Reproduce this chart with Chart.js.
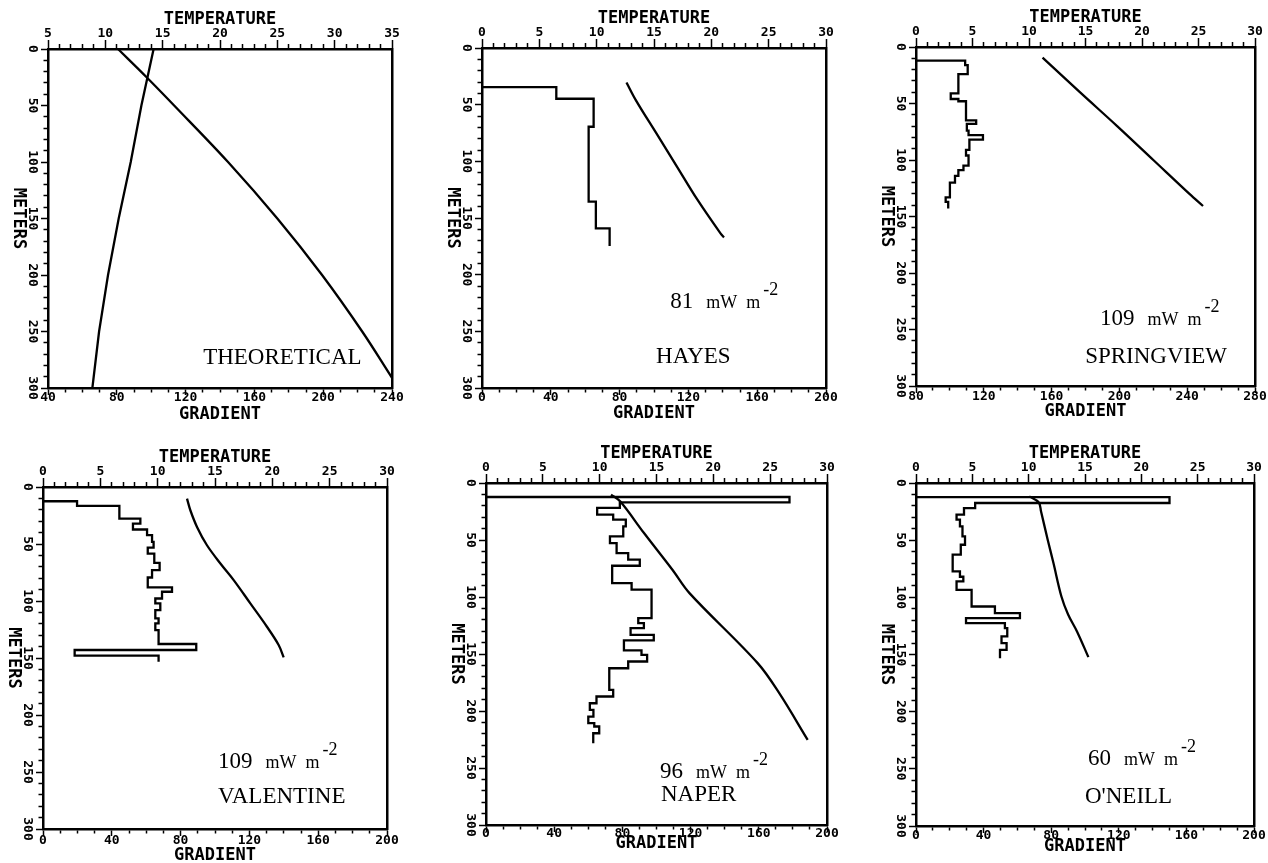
<!DOCTYPE html>
<html><head><meta charset="utf-8">
<title>Temperature and gradient logs</title>
<script src="https://cdn.jsdelivr.net/npm/chart.js@4.4.1/dist/chart.umd.min.js"></script>
<style>
html,body{margin:0;padding:0;background:#fff}
body{position:relative;width:1268px;height:863px;overflow:hidden}
canvas{position:absolute}
</style></head><body>
<script>
// ================= DATA =================
const depthTickLabels = [0, 50, 100, 150, 200, 250, 300];
const siteNames = ['THEORETICAL', 'HAYES', 'SPRINGVIEW', 'VALENTINE', 'NAPER', "O'NEILL"];
const heatFlow  = [null, '81', '109', '109', '96', '60'];
const tempRanges = [[5, 35], [0, 30], [0, 30], [0, 30], [0, 30], [0, 30]];
const gradRanges = [[40, 240], [0, 200], [80, 280], [0, 200], [0, 200], [0, 200]];

// THEORETICAL
const theoTempDepth = [0, 25, 50, 100, 150, 200, 250, 291];
const theoTemp      = [11.1, 13.6, 16.0, 20.7, 25.0, 28.9, 32.4, 35.0];
const theoGradDepth = [0, 50, 100, 150, 200, 250, 300];
const theoGrad      = [101.4, 94.3, 88.1, 81.1, 74.9, 69.7, 65.8];

// HAYES
const hayesTempDepth = [30.4, 45.7, 75.2, 104.6, 134.1, 163.6, 167.1];
const hayesTemp      = [12.6, 13.4, 15.2, 17.0, 18.8, 20.8, 21.1];
const hayesGradDepth = [34.5, 34.5, 44.8, 69.5, 135.6, 159.2, 174.8];
const hayesGrad      = [0, 43.2, 64.9, 62.0, 66.2, 74.2, 74.2];

// SPRINGVIEW
const sprTempDepth = [9.4, 40, 70, 100, 130, 140.7];
const sprTemp      = [11.2, 14.5, 17.8, 21.0, 24.2, 25.4];
const sprGradDepth = [12, 12, 16, 24, 41, 46, 48, 65, 68, 74, 78, 82, 91, 96, 105, 109, 114, 120, 133, 137, 143];
const sprGrad      = [80, 109, 110.5, 105, 100.5, 105, 109.5, 115.5, 110, 111, 119.5, 111.5, 109.5, 111, 108, 105, 103, 100, 97.5, 99, 99];

// VALENTINE
const valTempDepth = [10.2, 20.4, 35, 51.1, 67.1, 81.7, 102.1, 122.6, 138.6, 149.4];
const valTemp      = [12.56, 12.85, 13.43, 14.3, 15.47, 16.63, 18.08, 19.53, 20.55, 20.99];
const valGradDepth = [12.5, 12.5, 16.6, 27.7, 32.1, 37.3, 42.3, 48.1, 53.1, 58.4, 66.5, 73, 79.4, 88.1, 91.9, 97.8, 102.1, 108, 115.3, 119.6, 125.5, 137.7, 143, 147.9, 153.2];
const valGrad      = [0, 19.8, 44.4, 56.6, 52.3, 60.5, 63.4, 64.3, 60.9, 64.7, 67.8, 63.4, 60.9, 75, 69.2, 65.3, 68.2, 65.3, 67.2, 65.3, 67.2, 89.1, 18.4, 67.2, 67.2];

// NAPER
const napTempDepth = [10.2, 16.1, 43.9, 76.1, 96.6, 158, 184.4, 225.3];
const napTemp      = [11.0, 11.8, 13.9, 16.4, 17.9, 23.9, 25.8, 28.3];
const napGradDepth = [12.3, 12.3, 17, 21.9, 27.8, 32.2, 38, 46.8, 52.7, 61.5, 67.3, 72.6, 87.8, 93.6, 118.5, 122.9, 127.3, 133.2, 138.1, 146.9, 150.7, 156.6, 162.5, 181.4, 187.3, 193.2, 199, 205, 210.7, 213.6, 219.5, 228.3];
const napGrad      = [0, 178, 78.5, 65.2, 74.6, 82, 80.5, 72.7, 76.6, 83.4, 90.2, 74, 85.4, 97.1, 89.3, 92.6, 84.8, 98.4, 80.9, 91.2, 94.5, 83.4, 72.3, 74.6, 64.8, 60.9, 63, 60, 63.5, 66.4, 62.9, 62.9];

// O'NEILL
const onTempDepth = [11.7, 17, 25, 50, 70, 99, 115, 130, 152.3];
const onTemp      = [10.05, 10.9, 11.1, 11.7, 12.2, 12.9, 13.5, 14.3, 15.3];
const onGradDepth = [12.3, 12.3, 17.5, 21.9, 27.7, 32.1, 38, 46.7, 54, 62.7, 77.3, 82, 86.1, 93.4, 108, 113.8, 118.2, 122.6, 126.9, 134.2, 140.1, 145.9, 153.2];
const onGrad      = [0, 150, 35, 28.4, 24, 26, 27.5, 29, 26.5, 21.7, 26, 28, 24, 32.9, 46.7, 61.5, 29.6, 52.6, 54, 50.6, 53.6, 49.7, 49.7];

// ================= LAYOUT =================
const panels = [
  {rect:[48,49,344,339],  temp:[theoTempDepth,theoTemp],   grad:[theoGradDepth,theoGrad], stepped:false, namePos:[0.451,0.929], fluxPos:null,          bl:10,   bt:27},
  {rect:[482,48,344,340], temp:[hayesTempDepth,hayesTemp], grad:[hayesGradDepth,hayesGrad], stepped:'after', namePos:[0.506,0.926], fluxPos:[0.547,0.765], bl:9.5, bt:26},
  {rect:[916,47,339,339], temp:[sprTempDepth,sprTemp],     grad:[sprGradDepth,sprGrad],   stepped:'after', namePos:[0.499,0.932], fluxPos:[0.543,0.820], bl:11,  bt:26},
  {rect:[43,487,344,342], temp:[valTempDepth,valTemp],     grad:[valGradDepth,valGrad],   stepped:'after', namePos:[0.509,0.924], fluxPos:[0.509,0.822], bl:12,  bt:27},
  {rect:[486,483,341,342],temp:[napTempDepth,napTemp],     grad:[napGradDepth,napGrad],   stepped:'after', namePos:[0.513,0.930], fluxPos:[0.510,0.863], bl:9,   bt:19},
  {rect:[916,483,338,343],temp:[onTempDepth,onTemp],       grad:[onGradDepth,onGrad],     stepped:'after', namePos:[0.500,0.933], fluxPos:[0.509,0.822], bl:9.5, bt:21}
];

const MONO = 'DejaVu Sans Mono';
const SERIF = 'Liberation Serif';
const L = 45, T = 45, B = 40;

function rotText(ctx, text, x, y) {
  ctx.save(); ctx.translate(x, y); ctx.rotate(Math.PI / 2); ctx.fillText(text, 0, 0); ctx.restore();
}

panels.forEach((p, idx) => {
  const [l, t, w, h] = p.rect;
  const R = Math.min(30, 1268 - (l + w));
  const cv = document.createElement('canvas');
  cv.width = L + w + R; cv.height = T + h + B;
  cv.style.left = (l - L) + 'px'; cv.style.top = (t - T) + 'px';
  cv.style.width = cv.width + 'px'; cv.style.height = cv.height + 'px';
  document.body.appendChild(cv);

  const decor = {
    id: 'decor' + idx,
    afterDraw(chart) {
      const ctx = chart.ctx, ca = chart.chartArea, ys = chart.scales.y;
      const cw = ca.right - ca.left, ch = ca.bottom - ca.top;
      ctx.save();
      ctx.fillStyle = '#000';
      ctx.textAlign = 'center'; ctx.textBaseline = 'middle';
      ctx.font = 'bold 13px "' + MONO + '"';
      depthTickLabels.forEach(v => rotText(ctx, String(v), ca.left - 16, ys.getPixelForValue(v)));
      ctx.font = 'bold 17px "' + MONO + '"';
      rotText(ctx, 'METERS', ca.left - 30, (ca.top + ca.bottom) / 2);
      ctx.textAlign = 'left'; ctx.textBaseline = 'alphabetic';
      ctx.font = '23px "' + SERIF + '"';
      ctx.fillText(siteNames[idx], ca.left + p.namePos[0] * cw, ca.top + p.namePos[1] * ch);
      if (p.fluxPos && heatFlow[idx]) {
        let x = ca.left + p.fluxPos[0] * cw;
        const y = ca.top + p.fluxPos[1] * ch;
        ctx.font = '23px "' + SERIF + '"';
        ctx.fillText(heatFlow[idx], x, y); x += ctx.measureText(heatFlow[idx]).width + 13;
        ctx.font = '18px "' + SERIF + '"';
        ctx.fillText('mW', x, y); x += ctx.measureText('mW').width + 9;
        ctx.fillText('m', x, y); x += ctx.measureText('m').width + 3;
        ctx.font = '18px "' + SERIF + '"';
        ctx.fillText('-2', x, y - 13);
      }
      ctx.restore();
    }
  };

  const tickFont = {family: MONO, size: 13, weight: 'bold'};
  const titleFont = {family: MONO, size: 17, weight: 'bold'};
  const tr = tempRanges[idx], gr = gradRanges[idx];

  new Chart(cv, {
    type: 'line',
    data: {
      datasets: [
        {label: 'Temperature', xAxisID: 'xt', yAxisID: 'y',
         data: p.temp[0].map((d, i) => ({x: p.temp[1][i], y: d})),
         borderColor: '#000', borderWidth: 2.3, pointRadius: 0, tension: 0.35, fill: false},
        {label: 'Gradient', xAxisID: 'xg', yAxisID: 'y',
         data: p.grad[0].map((d, i) => ({x: p.grad[1][i], y: d})),
         stepped: p.stepped, borderColor: '#000', borderWidth: 2.3, pointRadius: 0, tension: 0, fill: false}
      ]
    },
    options: {
      responsive: false, animation: false, devicePixelRatio: 1,
      layout: {padding: {left: 0, top: 0, bottom: 0, right: R}},
      plugins: {legend: {display: false}, tooltip: {enabled: false}},
      scales: {
        xt: {
          type: 'linear', position: 'top', min: tr[0], max: tr[1],
          grid: {drawOnChartArea: false, drawTicks: true, tickLength: 9, tickWidth: 1.5, tickColor: '#000',
                 tickBorderDash: c => (c.tick && c.tick.value % 5 !== 0) ? [0, 4, 30] : []},
          border: {display: true, color: '#000', width: 2.5},
          ticks: {stepSize: 1, autoSkip: false, maxRotation: 0, minRotation: 0, padding: -1, color: '#000', font: tickFont,
                  callback: v => (v % 5 === 0 ? String(v) : '')},
          title: {display: true, text: 'TEMPERATURE', color: '#000', font: titleFont, padding: {top: 5, bottom: 0}},
          afterFit: s => { s.height = T; }
        },
        xg: {
          type: 'linear', position: 'bottom', min: gr[0], max: gr[1],
          grid: {drawOnChartArea: false, drawTicks: true, tickLength: 7, tickWidth: 1.5, tickColor: '#000',
                 tickBorderDash: c => (c.tick && c.tick.value % 40 !== 0) ? [3, 30] : []},
          border: {display: true, color: '#000', width: 2.5},
          ticks: {stepSize: 10, autoSkip: false, maxRotation: 0, minRotation: 0, padding: p.bl - 14.8, color: '#000', font: tickFont,
                  callback: v => (v % 40 === 0 ? String(v) : '')},
          title: {display: true, text: 'GRADIENT', color: '#000', font: titleFont, padding: {top: 0, bottom: B - 10.2 - p.bt}},
          afterFit: s => { s.height = B; }
        },
        y: {
          type: 'linear', position: 'left', reverse: true, min: 0, max: 300,
          grid: {drawOnChartArea: false, drawTicks: true, tickLength: 7, tickWidth: 1.5, tickColor: '#000',
                 tickBorderDash: c => (c.tick && c.tick.value % 50 !== 0) ? [0, 2.5, 30] : []},
          border: {display: true, color: '#000', width: 2.5},
          ticks: {stepSize: 10, autoSkip: false, display: false},
          afterFit: s => { s.width = L; }
        },
        yr: {
          type: 'linear', position: 'right', display: true,
          grid: {display: true, drawOnChartArea: false, drawTicks: false},
          border: {display: true, color: '#000', width: 2.5},
          ticks: {display: false},
          afterFit: s => { s.width = 0; }
        }
      }
    },
    plugins: [decor]
  });
});
</script>
</body></html>
